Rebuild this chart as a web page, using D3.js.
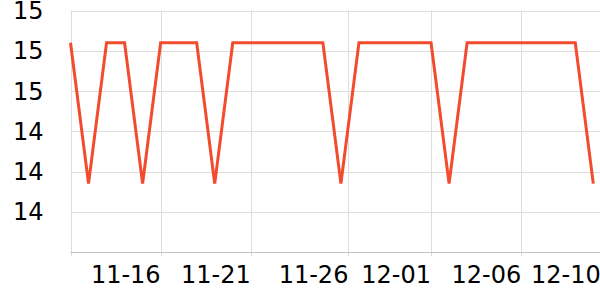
<!DOCTYPE html>
<html>
<head>
<meta charset="utf-8">
<script src="https://cdn.jsdelivr.net/npm/d3@7"></script>
<style>
  body { margin: 0; background: #fff; }
  text { font-family: "DejaVu Sans", sans-serif; }
</style>
</head>
<body>
<svg id="chart" width="600" height="300"></svg>
<script>
// daily values, 11-11 .. 12-10
const startDay = "2023-11-11 00:00";
const values = [
  14.84, 14.14, 14.84, 14.84, 14.14, 14.84, 14.84, 14.84, 14.14, 14.84,
  14.84, 14.84, 14.84, 14.84, 14.84, 14.14, 14.84, 14.84, 14.84, 14.84,
  14.84, 14.14, 14.84, 14.84, 14.84, 14.84, 14.84, 14.84, 14.84, 14.14
];
// tick times as they sit on the reference axis
const xTickTimes = ["2023-11-16 00:00", "2023-11-21 00:00", "2023-11-26 10:00",
                    "2023-12-01 00:00", "2023-12-06 00:00", "2023-12-10 10:00"];
const yTicks = [14.0, 14.2, 14.4, 14.6, 14.8, 15.0];
const yDomain = [13.8, 15.0];

const W = 600, H = 300;
const margin = {left: 70.5, right: 0, top: 10.5, bottom: 48};

const parse = d3.timeParse("%Y-%m-%d %H:%M");
const day0 = parse(startDay);
const data = values.map((v, i) => ({date: d3.timeDay.offset(day0, i), value: v}));

var svg = d3.select("#chart");

var xScale = d3.scaleTime()
               .domain(d3.extent(data, d => d.date))
               .range([margin.left, 593.3]);

var yScale = d3.scaleLinear()
               .domain(yDomain)
               .range([H - margin.bottom, margin.top]);

// horizontal grid
svg.append("g")
   .selectAll("line")
   .data(yTicks)
   .enter()
   .append("line")
   .attr("x1", margin.left)
   .attr("x2", W)
   .attr("y1", d => Math.round(yScale(d)) + 0.5)
   .attr("y2", d => Math.round(yScale(d)) + 0.5)
   .attr("stroke", "#dddddd");

// vertical grid (left edge + date ticks)
const xTicks = xTickTimes.map(parse);
svg.append("g")
   .selectAll("line")
   .data([day0].concat(xTicks))
   .enter()
   .append("line")
   .attr("x1", d => Math.round(xScale(d)) + 0.5)
   .attr("x2", d => Math.round(xScale(d)) + 0.5)
   .attr("y1", yScale(yDomain[1]))
   .attr("y2", yScale(yDomain[0]) + 4)
   .attr("stroke", "#dddddd");

// bottom axis line
svg.append("line")
   .attr("x1", margin.left)
   .attr("x2", W)
   .attr("y1", Math.round(yScale(yDomain[0])) + 0.5)
   .attr("y2", Math.round(yScale(yDomain[0])) + 0.5)
   .attr("stroke", "#c4c4c4");

// y labels
svg.append("g")
   .selectAll("text")
   .data(yTicks)
   .enter()
   .append("text")
   .attr("x", margin.left - 27)
   .attr("y", d => yScale(d))
   .attr("dy", "0.36em")
   .attr("text-anchor", "end")
   .attr("font-size", 24)
   .attr("fill", "#000")
   .text(d3.format(".0f"));

// x labels, right-aligned to their tick
svg.append("g")
   .selectAll("text")
   .data(xTicks)
   .enter()
   .append("text")
   .attr("x", d => xScale(d))
   .attr("y", yScale(yDomain[0]) + 31)
   .attr("text-anchor", "end")
   .attr("font-size", 24)
   .attr("fill", "#000")
   .text(d3.timeFormat("%m-%d"));

// the line
const linegen = d3.line()
                  .x(d => xScale(d.date))
                  .y(d => yScale(d.value));

svg.append("path")
   .datum(data)
   .attr("fill", "none")
   .attr("stroke", "#f24b2d")
   .attr("stroke-width", 3)
   .attr("stroke-linejoin", "miter")
   .attr("d", linegen);
</script>
</body>
</html>
